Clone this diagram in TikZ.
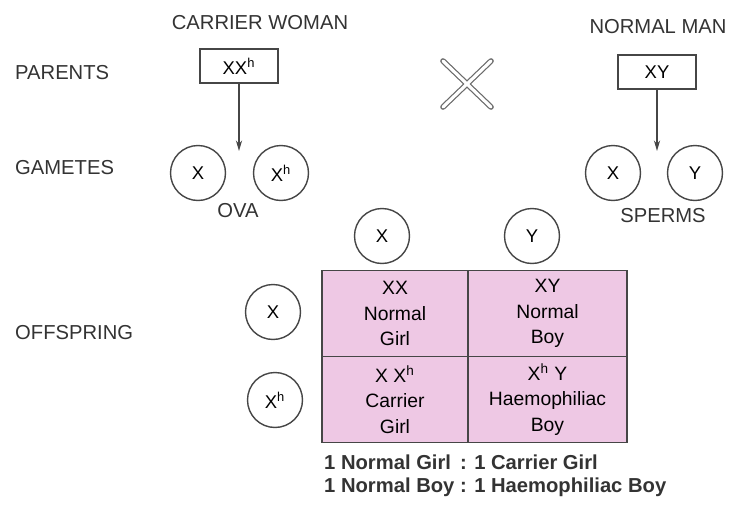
\documentclass[tikz,border=0pt]{standalone}
\usepackage{fontspec}
\setmainfont{Liberation Sans}
\usepackage{xcolor}
\usetikzlibrary{arrows.meta,positioning}
\definecolor{celda}{RGB}{238,200,228}
\definecolor{trazo}{RGB}{70,70,70}
\tikzset{
  rotulo/.style={font=\fontsize{11.5}{13}\selectfont,text=black!80},
  gameto/.style={circle,draw=trazo,line width=0.8pt,minimum size=1.1cm,inner sep=0pt,font=\fontsize{10.5}{12}\selectfont},
  caja/.style={draw=trazo,line width=0.9pt,minimum width=1.56cm,minimum height=0.68cm,inner sep=0pt,font=\fontsize{10.5}{12}\selectfont},
  celdabox/.style={draw=trazo,line width=1pt,fill=celda,minimum height=1.72cm,inner sep=0pt,align=center,font=\fontsize{11}{14.5}\selectfont},
  flecha/.style={-{Stealth[length=6pt,width=3.5pt]},line width=0.8pt,trazo}
}
\newcommand{\xh}{X\textsuperscript{h}}

\begin{document}
\begin{tikzpicture}[x=0.02cm,y=-0.02cm]
\useasboundingbox (0,0) rectangle (730,514);
% rotulos de la izquierda
\node[rotulo,anchor=west] (padres) at (9,73) {PARENTS};
\node[rotulo,anchor=west] (gametos) at (9,168) {GAMETES};
\node[rotulo,anchor=west] (hijos) at (9,333) {OFFSPRING};
% madre
\node[rotulo] (mujer) at (260,23) {CARRIER WOMAN};
\node[caja] (mxx) at (239,66) {X\xh};
\coordinate (mpunta) at (239,151);
\draw[flecha] (mxx) -- (mpunta);
\node[gameto] (ov1) at (198,173) {X};
\node[gameto] (ov2) at (281,173) {\xh};
\node[rotulo] (ova) at (238,211) {OVA};
% cruce
\draw[draw=trazo!80,double=white,double distance=1.8pt,line width=0.7pt,line cap=round]
  (443,61) -- (491,107) (443,107) -- (491,61);
% padre
\node[rotulo] (hombre) at (658,27) {NORMAL MAN};
\node[caja] (pxy) at (657,72) {XY};
\coordinate (ppunta) at (657,151);
\draw[flecha] (pxy) -- (ppunta);
\node[gameto] (sp1) at (613,173) {X};
\node[gameto] (sp2) at (695,173) {Y};
\node[rotulo] (sperms) at (663,216) {SPERMS};
% tablero
\node[gameto] (colx) at (382,236) {X};
\node[gameto] (coly) at (532,236) {Y};
\node[gameto] (filx) at (273,312) {X};
\node[gameto] (filh) at (275,400) {\xh};
\node[celdabox,minimum width=2.92cm] (c11) at (395,313.5) {XX\\Normal\\Girl};
\node[celdabox,minimum width=3.18cm] (c12) at (547.5,313.5) {XY\\Normal\\Boy};
\node[celdabox,minimum width=2.92cm] (c21) at (395,399.5) {X \xh\\Carrier\\Girl};
\node[celdabox,minimum width=3.18cm] (c22) at (547.5,399.5) {\xh{} Y\\Haemophiliac\\Boy};
% proporciones
\node[rotulo,anchor=west,font=\bfseries\fontsize{11.5}{13}\selectfont] (razon1) at (318,462) {1 Normal Girl \,: 1 Carrier Girl};
\node[rotulo,anchor=west,font=\bfseries\fontsize{11.5}{13}\selectfont] (razon2) at (318,487) {1 Normal Boy : 1 Haemophiliac Boy};
\end{tikzpicture}
\end{document}
